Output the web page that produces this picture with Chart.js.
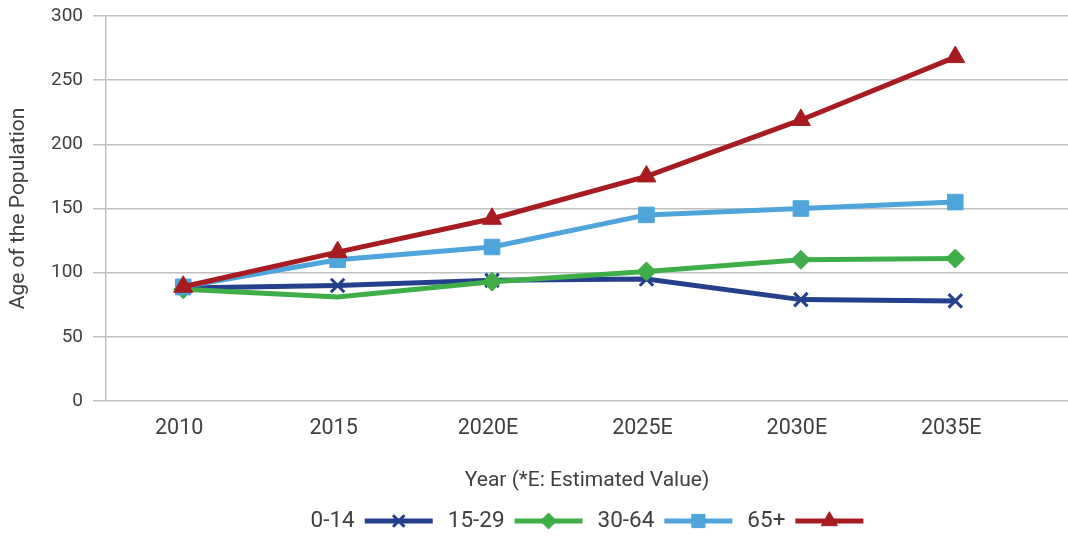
<!DOCTYPE html>
<html>
<head>
<meta charset="utf-8">
<script src="https://cdn.jsdelivr.net/npm/chart.js@4/dist/chart.umd.min.js"></script>
<style>
  html, body { margin: 0; padding: 0; background: #ffffff; overflow: hidden; }
  #wrap { width: 1068px; height: 539px; }
</style>
</head>
<body>
<div id="wrap"><canvas id="chart" width="1068" height="539"></canvas></div>
<script>
// Years on the horizontal axis (E = estimated)
const categories = ['2010', '2015', '2020E', '2025E', '2030E', '2035E'];

// Series by age group
const seriesLabels = ['0-14', '15-29', '30-64', '65+'];
const age0to14  = [88, 90, 94, 95, 79, 78];
const age15to29 = [87, 81, 93, 101, 110, 111];
const age30to64 = [89, 110, 120, 145, 150, 155];
const age65plus = [89, 116, 142, 175, 219, 268];

// Vertical axis ticks
const yTicks = [0, 50, 100, 150, 200, 250, 300];

const TEXT = '#404040';
const GRID = '#c0c0c0';
const FONT = 'Roboto';

const colors = ['#263f8c', '#3fae49', '#4fa4dc', '#a61c21'];
const styles = ['crossRot', 'rectRot', 'rect', 'triangle'];
const radii  = [9.5, 9.5, 11, 11];
const values = [age0to14, age15to29, age30to64, age65plus];

const datasets = values.map((vals, i) => ({
  label: seriesLabels[i],
  data: vals.map((v, k) => ({ x: k, y: v })),
  borderColor: colors[i],
  backgroundColor: colors[i],
  pointBackgroundColor: colors[i],
  pointBorderColor: colors[i],
  borderWidth: 5,
  pointStyle: styles[i],
  pointRadius: i === 1 ? (c => c.dataIndex === 1 ? 0 : radii[i]) : radii[i],
  pointBorderWidth: i === 0 ? 3 : 1,
  pointHoverRadius: radii[i],
  tension: 0,
  clip: false,
  order: values.length - 1 - i
}));

// Legend drawn as "label  ——marker——" items, centred under the plot
const lineLegend = {
  id: 'lineLegend',
  afterDraw(chart) {
    const ctx = chart.ctx;
    const area = chart.chartArea;
    const fontSize = 22.5;
    const gapText = 10, lineLen = 68, gapItem = 15;
    ctx.save();
    ctx.font = fontSize + 'px ' + FONT;
    const items = chart.data.datasets.map(ds => ({ ds, w: ctx.measureText(ds.label).width }));
    let total = 0;
    items.forEach((it, i) => {
      total += it.w + gapText + lineLen + (i < items.length - 1 ? gapItem : 0);
    });
    let x = (area.left + area.right) / 2 - total / 2;
    const y = 521;
    items.forEach(it => {
      const ds = it.ds;
      ctx.fillStyle = TEXT;
      ctx.textAlign = 'left';
      ctx.textBaseline = 'middle';
      ctx.fillText(ds.label, x, y);
      x += it.w + gapText;
      ctx.strokeStyle = ds.borderColor;
      ctx.lineWidth = 5;
      ctx.beginPath();
      ctx.moveTo(x, y);
      ctx.lineTo(x + lineLen, y);
      ctx.stroke();
      const r = typeof ds.pointRadius === 'number' ? ds.pointRadius : 9.5;
      ctx.fillStyle = ds.pointBackgroundColor;
      ctx.strokeStyle = ds.pointBorderColor;
      ctx.lineWidth = ds.pointBorderWidth;
      Chart.helpers.drawPoint(ctx, {
        pointStyle: ds.pointStyle,
        radius: r * 0.85,
        rotation: 0,
        borderWidth: ds.pointBorderWidth
      }, x + lineLen / 2, y);
      x += lineLen + gapItem;
    });
    ctx.restore();
  }
};

new Chart(document.getElementById('chart'), {
  type: 'line',
  data: { datasets },
  options: {
    responsive: false,
    animation: false,
    events: [],
    layout: { autoPadding: false, padding: { top: 16, right: 0, bottom: 46, left: 0 } },
    plugins: {
      legend: { display: false },
      tooltip: { enabled: false }
    },
    scales: {
      x: {
        type: 'linear',
        min: -0.5,
        max: 5.73,
        afterBuildTicks: s => { s.ticks = categories.map((_, k) => ({ value: k })); },
        afterFit: s => { s.height = 92; s.paddingLeft = 0; s.paddingRight = 0; },
        grid: { display: false, drawTicks: false },
        border: { display: false },
        ticks: {
          autoSkip: false,
          maxRotation: 0,
          padding: 15,
          labelOffset: -4,
          color: TEXT,
          font: { family: FONT, size: 21.5 },
          callback: v => categories[v] ?? ''
        },
        title: {
          display: true,
          text: 'Year (*E: Estimated Value)',
          color: TEXT,
          font: { family: FONT, size: 21 },
          padding: { top: 0, bottom: 0 }
        }
      },
      y: {
        min: yTicks[0],
        max: yTicks[yTicks.length - 1],
        afterBuildTicks: s => { s.ticks = yTicks.map(v => ({ value: v })); },
        afterFit: s => { s.width = 106; s.paddingTop = 0; s.paddingBottom = 0; },
        grid: { color: GRID, lineWidth: 1.5, tickLength: 13, drawTicks: true },
        border: { display: true, color: GRID, width: 1.5 },
        ticks: {
          padding: 10,
          color: TEXT,
          font: { family: FONT, size: 19 }
        },
        title: {
          display: true,
          text: 'Age of the Population',
          color: TEXT,
          font: { family: FONT, size: 21 },
          padding: { top: 6, bottom: 0 }
        }
      }
    }
  },
  plugins: [lineLegend]
});
</script>
</body>
</html>
